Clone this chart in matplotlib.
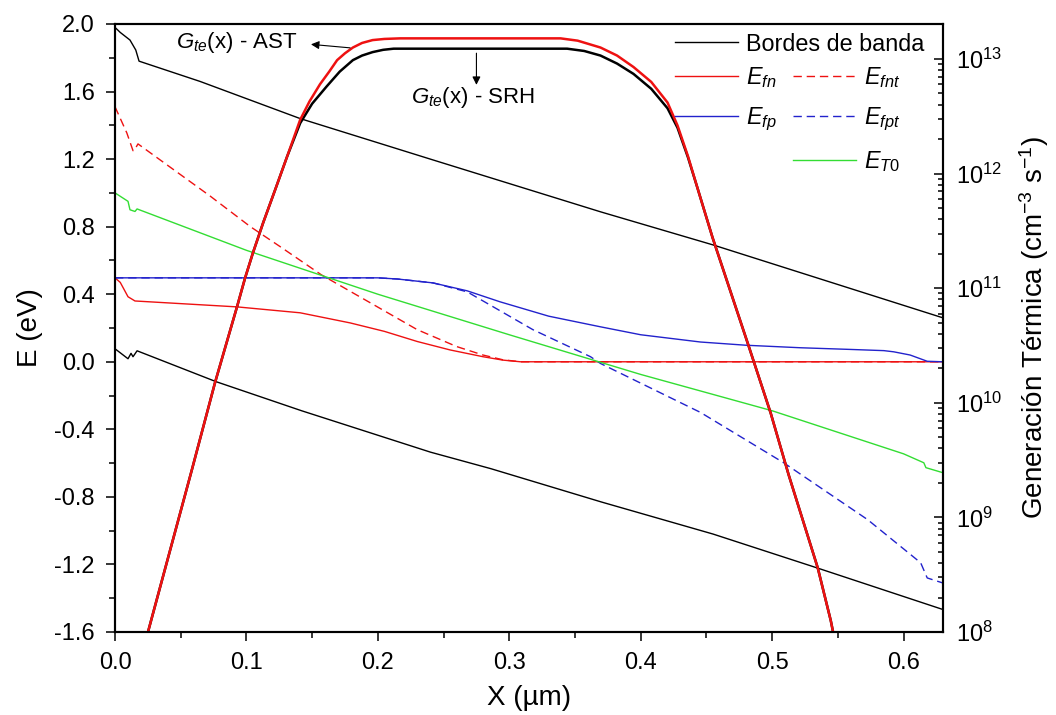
import matplotlib
matplotlib.use("Agg")
import matplotlib.pyplot as plt
import numpy as np
from matplotlib.ticker import MultipleLocator, FormatStrFormatter, LogLocator

plt.rcParams['font.family'] = ['Liberation Sans', 'DejaVu Sans']
plt.rcParams['mathtext.fontset'] = 'custom'
plt.rcParams['mathtext.rm'] = 'Liberation Sans'
plt.rcParams['mathtext.it'] = 'Liberation Sans:italic'
plt.rcParams['mathtext.bf'] = 'Liberation Sans:bold'
plt.rcParams['axes.unicode_minus'] = False

x_ticks = [0.0, 0.1, 0.2, 0.3, 0.4, 0.5, 0.6]
e_ticks = [-1.6, -1.2, -0.8, -0.4, 0.0, 0.4, 0.8, 1.2, 1.6, 2.0]

# band edges (eV)
x_ec = [0.0, 0.004, 0.0114, 0.0158, 0.0183, 0.0647, 0.1409, 0.242, 0.3694, 0.455, 0.63]
e_ec = [1.98, 1.95, 1.905, 1.846, 1.78, 1.66, 1.44, 1.195, 0.888, 0.692, 0.26]
x_ev = [0.0, 0.0099, 0.0122, 0.0137, 0.0168, 0.077, 0.142, 0.24, 0.286, 0.37, 0.455, 0.534, 0.63]
e_ev = [0.077, 0.018, 0.05, 0.03, 0.065, -0.118, -0.29, -0.535, -0.633, -0.83, -1.02, -1.22, -1.467]

# quasi-Fermi levels
x_fn = [0.0, 0.004, 0.0099, 0.0152, 0.0929, 0.1409, 0.179, 0.205, 0.23, 0.255, 0.28, 0.295, 0.3085, 0.63]
e_fn = [0.497, 0.47, 0.385, 0.36, 0.325, 0.29, 0.23, 0.18, 0.12, 0.07, 0.03, 0.01, 0.0, 0.0]
x_fnt = [0.0, 0.009, 0.0137, 0.0145, 0.0175, 0.0726, 0.103, 0.126, 0.157, 0.23, 0.26, 0.28, 0.295, 0.3085, 0.63]
e_fnt = [1.51, 1.355, 1.25, 1.25, 1.29, 0.98, 0.80, 0.68, 0.515, 0.19, 0.09, 0.04, 0.012, 0.0, 0.0]
x_fp = [0.0, 0.2, 0.215, 0.242, 0.268, 0.293, 0.33, 0.3694, 0.40, 0.4455, 0.48, 0.5217,
        0.56, 0.585, 0.5925, 0.605, 0.618, 0.63]
e_fp = [0.497, 0.497, 0.49, 0.467, 0.42, 0.355, 0.27, 0.207, 0.16, 0.117, 0.098, 0.083,
        0.073, 0.066, 0.059, 0.04, 0.003, 0.0]
x_fpt = [0.0, 0.2, 0.215, 0.242, 0.268, 0.318, 0.3618, 0.3694, 0.4455, 0.5088, 0.5727, 0.613, 0.618, 0.63]
e_fpt = [0.497, 0.497, 0.49, 0.467, 0.414, 0.19, 0.03, -0.01, -0.30, -0.598, -0.935, -1.19, -1.28, -1.31]
x_t0 = [0.0, 0.0099, 0.0114, 0.0152, 0.0168, 0.1, 0.2, 0.3, 0.4, 0.5, 0.6, 0.6154, 0.617, 0.63]
e_t0 = [1.0, 0.95, 0.90, 0.89, 0.905, 0.66, 0.40, 0.16, -0.075, -0.29, -0.545, -0.598, -0.627, -0.657]

# thermal generation, log10(cm^-3 s^-1)
x_ast = [0.022, 0.0251, 0.0586, 0.0762, 0.0929, 0.099, 0.105, 0.1127, 0.1219, 0.131, 0.1409,
         0.148, 0.156, 0.163, 0.169, 0.175, 0.181, 0.188, 0.196, 0.205, 0.217, 0.23,
         0.339, 0.352, 0.3694, 0.382, 0.3945, 0.408, 0.4204, 0.428, 0.436, 0.4433, 0.4478,
         0.4547, 0.482, 0.4989, 0.5126, 0.5347, 0.5446, 0.549]
lg_ast = [7.85, 8.0, 9.42, 10.18, 10.84, 11.09, 11.31, 11.57, 11.86, 12.15, 12.47,
          12.63, 12.78, 12.89, 12.99, 13.05, 13.10, 13.14, 13.165, 13.175, 13.18, 13.18,
          13.18, 13.16, 13.10, 13.03, 12.93, 12.80, 12.62, 12.42, 12.15, 11.87, 11.70,
          11.44, 10.50, 9.91, 9.37, 8.56, 8.10, 7.85]
x_srh = [0.022, 0.0251, 0.0586, 0.0762, 0.0929, 0.099, 0.105, 0.1127, 0.1219, 0.131, 0.1409,
         0.15, 0.161, 0.171, 0.181, 0.188, 0.196, 0.204, 0.212, 0.225,
         0.344, 0.357, 0.3694, 0.382, 0.3945, 0.408, 0.4204, 0.428, 0.436, 0.4433, 0.4478,
         0.4547, 0.482, 0.4989, 0.5126, 0.5347, 0.5446, 0.549]
lg_srh = [7.85, 8.0, 9.42, 10.18, 10.84, 11.09, 11.31, 11.57, 11.86, 12.15, 12.44,
          12.61, 12.76, 12.89, 12.99, 13.03, 13.06, 13.08, 13.09, 13.09,
          13.09, 13.07, 13.03, 12.96, 12.87, 12.74, 12.57, 12.40, 12.14, 11.87, 11.70,
          11.44, 10.50, 9.91, 9.37, 8.56, 8.10, 7.85]

red = '#ee1111'
blue = '#2222cc'
green = '#33dd33'

fig = plt.figure(figsize=(10.56, 7.15), dpi=100)
ax = fig.add_axes([115/1056, 1-632/715, 828/1056, 608/715])
ax2 = ax.twinx()

lw = 1.0
h_bb, = ax.plot(x_ec, e_ec, color='k', lw=lw)
ax.plot(x_ev, e_ev, color='k', lw=lw)
h_fn, = ax.plot(x_fn, e_fn, color=red, lw=lw)
h_fnt, = ax.plot(x_fnt, e_fnt, color=red, lw=lw, dashes=(6, 3.5))
h_fp, = ax.plot(x_fp, e_fp, color=blue, lw=lw)
h_fpt, = ax.plot(x_fpt, e_fpt, color=blue, lw=lw, dashes=(6, 3.5))
h_t0, = ax.plot(x_t0, e_t0, color=green, lw=lw)

ax2.plot(x_srh, 10**np.array(lg_srh), color='k', lw=1.8)
ax2.plot(x_ast, 10**np.array(lg_ast), color=red, lw=1.8)

ax.set_xlim(0, 0.63)
ax.set_ylim(-1.6, 2.0)
ax2.set_yscale('log')
ax2.set_ylim(1e8, 2.02e13)

ax.set_xticks(x_ticks)
ax.xaxis.set_minor_locator(MultipleLocator(0.05))
ax.xaxis.set_major_formatter(FormatStrFormatter('%.1f'))
ax.set_yticks(e_ticks)
ax.yaxis.set_minor_locator(MultipleLocator(0.2))
ax.yaxis.set_major_formatter(FormatStrFormatter('%.1f'))
ax2.yaxis.set_major_locator(LogLocator(base=10, numticks=10))
ax2.yaxis.set_minor_locator(LogLocator(base=10, subs=np.arange(2, 10), numticks=20))

ax.tick_params(axis='both', which='major', direction='out', length=6.5, width=1.1,
               labelsize=17, pad=8)
ax.tick_params(axis='both', which='minor', direction='out', length=4, width=1.1)
ax2.tick_params(axis='y', which='major', direction='in', length=6.5, width=1.1,
                labelsize=17, pad=9)
ax2.tick_params(axis='y', which='minor', direction='in', length=3.6, width=1.1)
for a in (ax, ax2):
    for s in a.spines.values():
        s.set_linewidth(1.5)

ax.set_xlabel('X (µm)', fontsize=20, labelpad=8)
ax.set_ylabel('E (eV)', fontsize=20, labelpad=8)
ax2.set_ylabel(r'Generación Térmica (cm$^{-3}$ s$^{-1}$)', fontsize=20, labelpad=11)

# annotations
ax2.annotate('', xy=(0.147, 10**13.13), xytext=(0.181, 10**13.095),
             arrowprops=dict(arrowstyle='-|>', lw=0.8, color='k', mutation_scale=12))
ax2.text(0.139, 10**13.148, r'$G_{te}$(x) - AST', fontsize=16, ha='right', va='center')
ax2.annotate('', xy=(0.275, 10**12.75), xytext=(0.275, 10**13.075),
             arrowprops=dict(arrowstyle='-|>', lw=0.8, color='k', mutation_scale=12))
ax2.text(0.272, 10**12.66, r'$G_{te}$(x) - SRH', fontsize=16, ha='center', va='center')

# legend
leg_kw = dict(frameon=False, fontsize=16.8, borderpad=0, borderaxespad=0,
              handlelength=2.7, handletextpad=0.35, labelspacing=0.68, loc='upper left')
leg1 = ax2.legend([h_bb], ['Bordes de banda'], bbox_to_anchor=(0.676, 0.986), **leg_kw)
ax2.add_artist(leg1)
leg2 = ax2.legend([h_fn, h_fp], [r'$E_{fn}$', r'$E_{fp}$'],
                  bbox_to_anchor=(0.676, 0.933), **leg_kw)
ax2.add_artist(leg2)
ax2.legend([h_fnt, h_fpt, h_t0], [r'$E_{fnt}$', r'$E_{fpt}$', r'$E_{\mathit{T0}}$'],
           bbox_to_anchor=(0.819, 0.933), **leg_kw)

fig.savefig('out.png', dpi=100)
